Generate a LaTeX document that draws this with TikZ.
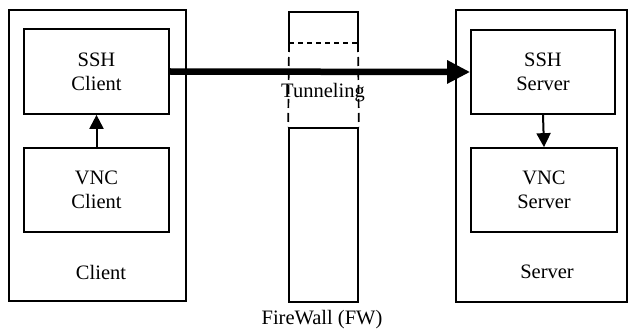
\documentclass[tikz,border=0pt]{standalone}
\usepackage{fontspec}
\setmainfont{Liberation Serif}
\usetikzlibrary{arrows.meta}
\begin{document}
\begin{tikzpicture}[x=1pt,y=-1pt,
  box/.style={draw,line width=1.7pt,rectangle,inner sep=0pt,align=center,
    font=\fontsize{20.5}{24}\selectfont},
  lbl/.style={inner sep=0pt,font=\fontsize{20.5}{24}\selectfont},
  thin/.style={line width=2pt,-{Triangle[length=14pt,width=14pt]}},
  thick/.style={line width=6.5pt,-{Triangle[length=23pt,width=22pt]}},
  fw/.style={line width=1.7pt}]
\useasboundingbox (0,0) rectangle (629,334);
% client side
\node[box,minimum width=177pt,minimum height=291pt] (client) at (97.5,155.5) {};
\node[box,minimum width=145pt,minimum height=85pt] (sshc) at (96.5,71.5) {SSH\\Client};
\node[box,minimum width=145pt,minimum height=84pt] (vncc) at (96.5,190) {VNC\\Client};
\node[lbl] (clbl) at (101,272) {Client};
% server side
\node[box,minimum width=171pt,minimum height=292pt] (server) at (541.5,156) {};
\node[box,minimum width=144pt,minimum height=84pt] (sshs) at (543,72) {SSH\\Server};
\node[box,minimum width=146pt,minimum height=84pt] (vncs) at (544,190) {VNC\\Server};
\node[lbl] (slbl) at (547,272) {Server};
% firewall
\coordinate (ftl) at (289,12);
\coordinate (ftr) at (358,12);
\coordinate (fml) at (289,43);
\coordinate (fmr) at (358,43);
\node[box,minimum width=69pt,minimum height=174pt] (fwbot) at (323.5,215) {};
\draw[fw] (fml) -- (ftl) -- (ftr) -- (fmr);
\draw[fw,dashed,dash pattern=on 5pt off 4pt] (fml) -- (fmr);
\draw[fw,dashed,dash pattern=on 9pt off 5pt] (fml) -- (fwbot.north west);
\draw[fw,dashed,dash pattern=on 9pt off 5pt] (fmr) -- (fwbot.north east);
\node[lbl] (tun) at (323,93) {Tunneling};
\node[lbl] (fwl) at (322,320) {FireWall (FW)};
% arrows
\draw[thin] (vncc.north) -- (sshc.south);
\draw[thin] (sshs.south) -- (vncs.north);
\draw[thick] (sshc.east) -- (sshs.west);
\end{tikzpicture}
\end{document}
